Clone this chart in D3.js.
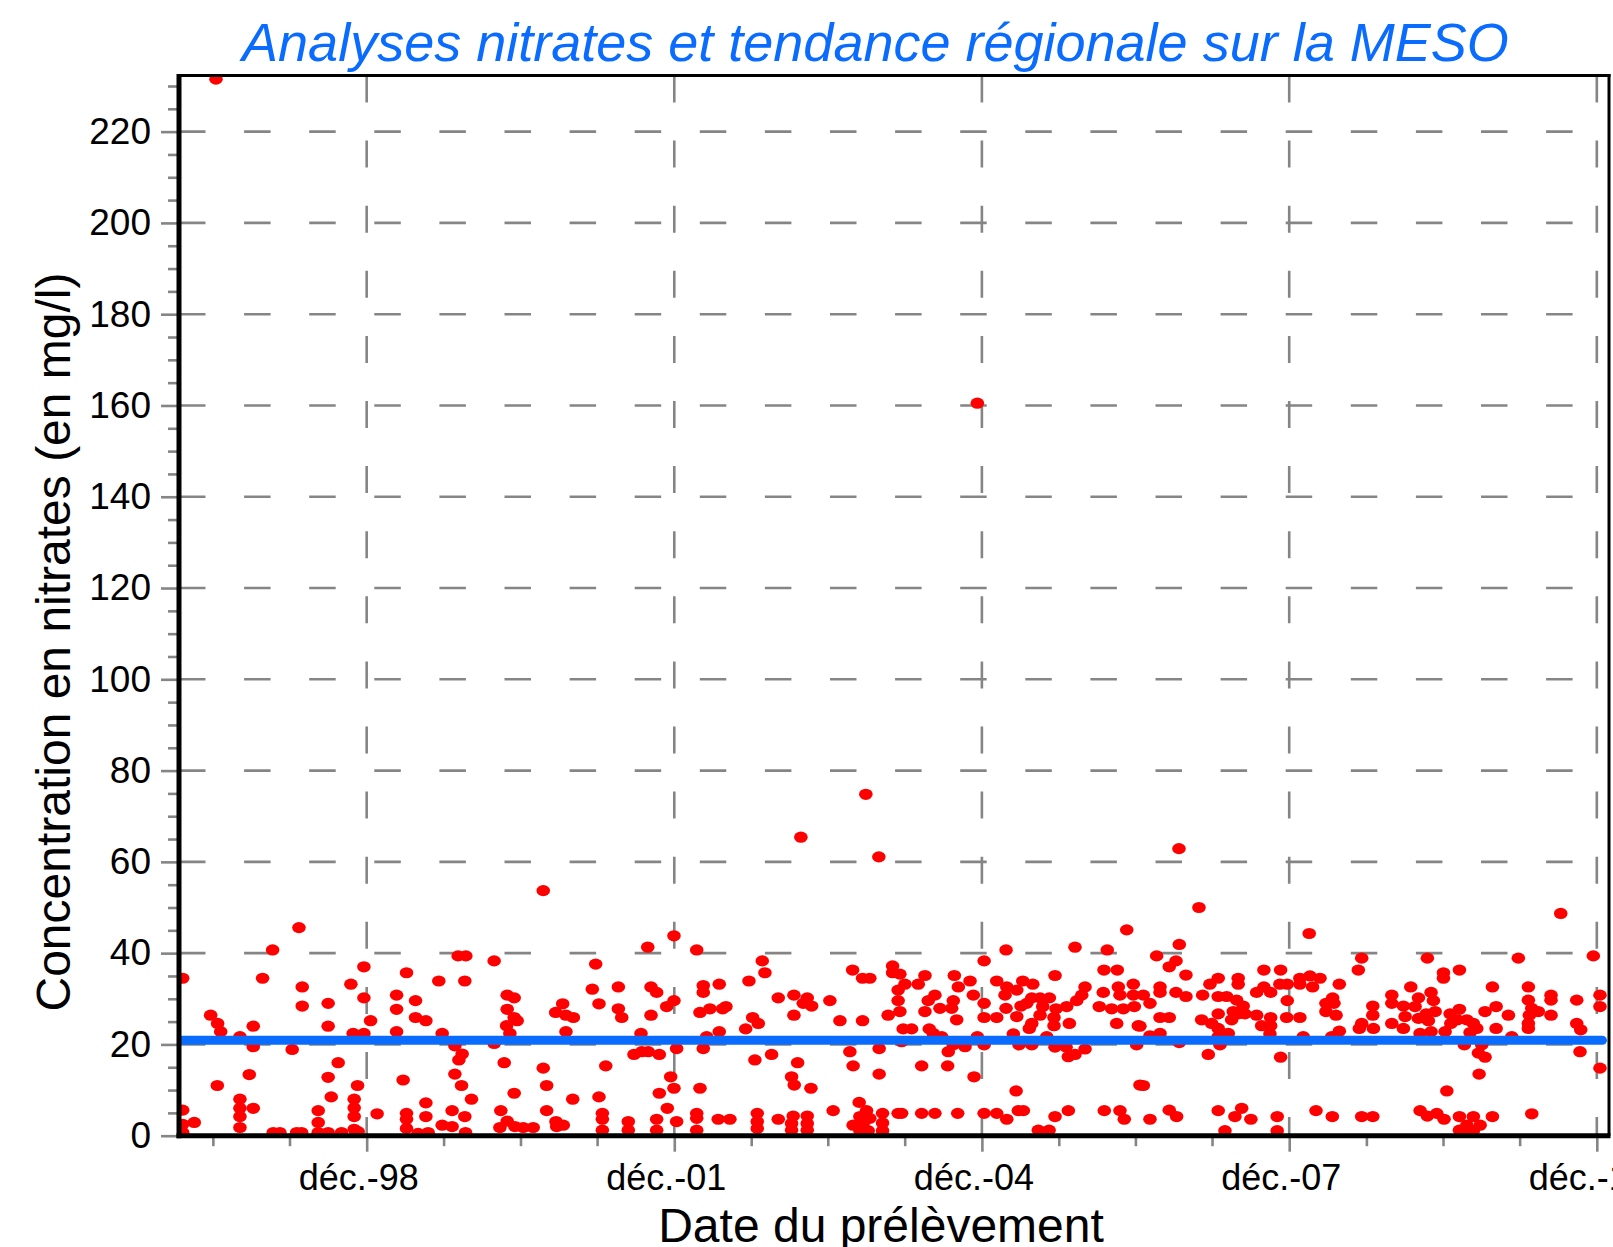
<!DOCTYPE html>
<html>
<head>
<meta charset="utf-8">
<script src="https://cdn.jsdelivr.net/npm/d3@7"></script>
<style>
  body { margin: 0; background: #fff; }
  svg { display: block; }
  text { font-family: "Liberation Sans", Arial, sans-serif; }
</style>
</head>
<body>
<div id="chart"></div>
<script>
// analyses: [date as decimal year, nitrates mg/l]
const analyses1997_1999 = [
  [1997.444,231.5],
  [1997.119,34.5],[1997.997,40.7],[1998.254,45.6],[1997.899,34.5],[1998.286,32.6],[1998.286,28.4],
  [1997.392,26.4],[1997.460,24.6],[1997.490,22.8],[1997.678,21.7],[1997.808,24.0],[1997.808,19.5],
  [1998.188,18.9],[1998.539,29.0],[1998.539,24.0],[1998.761,33.2],[1998.888,37.0],[1998.888,30.2],
  [1998.953,25.2],[1998.783,22.4],[1998.888,22.4],[1999.207,30.8],[1999.207,27.7],[1999.207,22.8],
  [1999.304,35.7],[1999.392,29.6],[1999.392,25.9],[1998.637,16.0],[1998.539,12.8],[1998.569,8.5],
  [1998.826,11.0],[1998.793,8.0],[1998.793,6.1],[1998.793,4.2],[1998.793,1.4],[1998.832,0.9],
  [1999.017,4.8],[1999.271,12.2],[1999.304,4.9],[1999.304,3.6],[1999.304,1.6],[1999.417,0.5],
  [1997.769,13.4],[1997.457,11.0],[1997.678,8.0],[1997.678,6.0],[1997.678,4.2],[1997.678,1.8],
  [1997.808,6.0],[1997.119,5.6],[1997.119,2.5],[1997.119,0.7],[1997.232,2.9],[1998.003,0.7],
  [1998.068,0.7],[1998.231,0.7],[1998.280,0.7],[1998.442,5.5],[1998.442,2.9],[1998.442,0.7],
  [1998.539,0.7],[1998.670,0.7]
];

const analyses1999_2001 = [
  [2000.637,53.7],[1999.808,39.4],[1999.883,39.4],[2000.159,38.3],[2001.656,41.3],[2001.148,37.6],
  [1999.619,33.9],[1999.873,33.9],[1999.493,25.2],[2000.286,30.8],[2000.354,30.2],[2000.286,27.7],
  [2000.354,25.9],[2000.383,25.2],[2000.280,24.1],[2000.312,22.4],[1999.652,22.4],[1999.776,19.7],
  [1999.847,17.9],[1999.815,16.6],[1999.776,13.5],[1999.841,11.0],[1999.938,8.0],[2000.159,20.2],
  [2000.257,16.0],[2000.354,9.3],[2000.224,5.5],[2000.286,3.2],[2000.215,1.8],[2000.361,2.0],
  [2000.442,1.8],[2000.539,1.8],[2000.637,14.8],[2000.670,11.0],[2000.670,5.5],[2000.761,3.1],
  [2000.768,2.0],[2000.832,2.3],[2000.758,27.0],[2000.826,28.9],[2000.858,26.4],[2000.930,25.9],
  [2000.858,22.8],[2000.924,8.0],[2001.115,32.1],[2001.180,28.9],[2001.246,15.3],[2001.180,8.5],
  [2001.213,4.9],[2001.213,3.6],[2001.213,1.2],[2001.369,32.6],[2001.369,27.8],[2001.402,25.9],
  [2001.688,32.6],[2001.743,31.4],[2001.688,26.4],[2001.590,22.4],[2001.522,17.8],[2001.597,18.4],
  [2001.661,18.4],[2001.769,17.8],[2001.466,3.1],[2001.466,1.2],[2001.743,3.6],[2001.743,1.2],
  [2001.769,9.3],[1999.493,7.2],[1999.493,4.2],[1999.515,0.7],[1999.749,5.5],[1999.749,2.0],
  [1999.652,2.3],[1999.873,4.2],[1999.880,0.7]
];

const analyses2001_2004 = [
  [2003.785,74.8],[2003.151,65.4],[2003.912,61.1],[2001.912,43.8],[2002.134,40.7],[2002.774,38.3],
  [2002.800,35.7],[2003.656,36.3],[2003.753,34.5],[2003.824,34.5],[2004.046,37.2],[2004.046,35.7],
  [2002.198,32.9],[2002.198,31.4],[2002.354,33.2],[2002.644,33.9],[2001.841,28.3],[2001.912,29.6],
  [2002.166,27.0],[2002.263,27.8],[2002.387,27.8],[2002.419,28.3],[2002.930,30.2],[2003.083,30.8],
  [2003.213,30.2],[2003.174,29.0],[2003.256,28.4],[2003.083,26.4],[2003.434,29.6],[2003.532,25.2],
  [2003.753,25.2],[2004.003,26.4],[2004.100,31.9],[2004.100,29.6],[2002.680,25.9],[2002.735,24.6],
  [2002.612,23.4],[2002.354,22.8],[2002.231,21.7],[2001.938,19.1],[2002.198,19.1],[2002.702,16.6],
  [2002.865,17.8],[2003.629,18.4],[2003.661,15.3],[2003.915,19.1],[2003.915,13.5],[2003.119,16.0],
  [2003.060,12.9],[2003.086,11.1],[2003.249,10.4],[2001.880,12.9],[2001.912,10.4],[2002.166,10.4],
  [2001.847,6.0],[2001.938,3.1],[2002.134,4.9],[2002.134,3.8],[2002.134,1.2],[2002.344,3.6],
  [2002.458,3.6],[2002.725,4.9],[2002.725,3.1],[2002.725,1.6],[2002.930,3.6],[2003.076,4.3],
  [2003.060,2.7],[2003.060,1.2],[2003.213,4.3],[2003.213,2.7],[2003.213,1.2],[2003.466,5.5],
  [2003.720,7.3],[2003.792,5.5],[2003.661,2.3],[2003.727,4.2],[2003.759,2.7],[2003.727,1.1],
  [2003.808,1.1],[2003.824,3.8],[2003.948,4.9],[2003.948,2.8],[2003.948,1.1],[2004.100,4.9]
];

const analyses2004_2006 = [
  [2004.871,160.5],[2006.329,45.1],[2005.824,41.3],[2005.151,40.7],[2006.139,40.7],[2004.937,38.3],
  [2006.107,36.3],[2006.237,36.3],[2005.629,35.1],[2004.117,35.4],[2004.361,35.1],[2004.647,35.1],
  [2004.296,33.2],[2004.166,33.2],[2004.800,33.9],[2005.060,33.9],[2005.158,32.6],[2005.314,33.9],
  [2005.412,33.2],[2004.686,32.6],[2004.832,30.8],[2005.256,31.9],[2005.141,30.8],[2006.393,33.2],
  [2006.247,32.6],[2005.922,32.6],[2006.100,31.4],[2005.890,30.8],[2004.458,30.8],[2004.393,29.6],
  [2004.637,29.6],[2005.402,30.2],[2005.483,30.2],[2005.574,30.2],[2005.841,29.6],[2006.263,30.8],
  [2006.393,30.8],[2004.117,27.2],[2004.361,27.2],[2004.507,27.9],[2004.621,27.9],[2004.937,29.0],
  [2005.151,27.9],[2005.297,28.4],[2005.353,29.0],[2005.509,28.3],[2005.639,27.8],[2005.743,28.3],
  [2006.061,28.3],[2006.182,27.8],[2006.296,27.8],[2006.403,28.3],[2004.670,25.4],[2004.937,25.9],
  [2005.060,25.9],[2005.256,26.1],[2005.402,24.6],[2005.483,26.4],[2005.619,25.9],[2005.769,24.6],
  [2005.619,24.1],[2005.378,23.5],[2006.231,24.6],[2006.442,24.1],[2004.149,23.4],[2004.231,23.4],
  [2004.403,23.4],[2004.442,22.4],[2004.524,21.7],[2004.871,21.7],[2005.222,22.3],[2005.548,21.7],
  [2004.134,20.6],[2004.637,19.9],[2004.751,19.5],[2004.937,19.9],[2005.278,19.9],[2005.402,19.9],
  [2005.629,19.4],[2005.737,19.4],[2005.922,19.0],[2006.426,19.9],[2004.588,18.4],[2005.759,17.3],
  [2005.824,17.8],[2004.329,15.3],[2004.582,15.3],[2004.839,12.9],[2005.249,9.8],[2006.458,11.1],
  [2004.134,4.9],[2004.329,4.9],[2004.458,4.9],[2004.680,4.9],[2004.937,4.9],[2005.060,4.9],
  [2005.158,3.6],[2005.271,5.5],[2005.320,5.5],[2005.629,4.2],[2005.759,5.5],[2006.110,5.5],
  [2006.263,5.5],[2006.305,3.6],[2005.466,1.2],[2005.571,1.2]
];

const analyses2006_2008 = [
  [2006.839,62.9],[2007.034,50.0],[2008.110,44.3],[2006.842,41.9],[2006.621,39.4],[2006.810,38.3],
  [2006.744,37.0],[2006.907,35.2],[2007.668,36.3],[2007.831,36.3],[2008.621,38.9],[2008.588,36.3],
  [2006.654,32.6],[2006.654,31.4],[2006.810,31.4],[2006.907,30.5],[2007.141,33.2],[2007.222,34.5],
  [2007.417,34.5],[2007.417,33.2],[2007.070,30.8],[2007.222,30.5],[2007.304,30.5],[2007.402,29.7],
  [2007.466,28.4],[2007.369,27.2],[2007.417,26.7],[2007.483,26.7],[2007.668,32.6],[2007.597,31.4],
  [2007.734,31.4],[2007.824,33.2],[2007.896,33.2],[2008.019,34.5],[2008.117,35.0],[2008.143,32.6],
  [2008.215,34.5],[2008.019,33.2],[2008.403,33.2],[2007.896,29.6],[2008.338,30.2],[2008.273,29.0],
  [2008.351,29.0],[2008.273,27.2],[2008.371,26.4],[2006.491,30.8],[2006.556,29.0],[2006.654,25.9],
  [2006.744,25.9],[2006.458,24.0],[2006.556,21.9],[2006.654,22.4],[2006.842,20.4],[2007.060,25.4],
  [2007.158,24.6],[2007.222,26.7],[2007.222,23.5],[2007.222,21.7],[2007.320,22.4],[2007.239,19.9],
  [2007.353,25.4],[2007.597,26.4],[2007.646,24.1],[2007.734,25.9],[2007.734,24.1],[2007.727,22.3],
  [2007.890,25.9],[2008.019,25.9],[2008.052,21.7],[2008.329,21.7],[2008.403,22.9],[2008.598,23.5],
  [2008.621,24.6],[2008.729,28.4],[2008.729,26.4],[2008.735,23.5],[2007.125,17.8],[2007.831,17.2],
  [2006.491,11.0],[2006.744,5.6],[2006.816,4.2],[2006.556,3.6],[2007.222,5.5],[2007.385,4.2],
  [2007.451,6.0],[2007.541,3.6],[2007.288,1.1],[2007.798,4.2],[2007.798,1.1],[2008.176,5.5],
  [2008.335,4.2],[2008.621,4.2],[2008.729,4.2]
];

const analyses2008_2010 = [
  [2010.563,48.7],[2010.881,39.4],[2010.149,38.9],[2009.261,38.9],[2009.574,36.3],[2009.418,35.7],
  [2009.418,34.5],[2009.099,32.6],[2009.896,32.6],[2010.247,32.6],[2010.946,30.8],[2010.946,28.3],
  [2008.914,30.8],[2008.914,29.0],[2009.174,30.2],[2009.297,31.4],[2009.320,29.6],[2009.027,28.4],
  [2009.141,28.3],[2009.337,27.2],[2009.249,26.7],[2009.044,26.1],[2009.174,25.7],[2009.271,25.2],
  [2009.483,26.7],[2009.574,27.7],[2009.554,25.4],[2009.490,24.6],[2008.914,24.6],[2009.027,23.5],
  [2009.190,22.4],[2009.297,22.8],[2009.434,22.8],[2009.646,25.4],[2009.710,24.6],[2009.743,23.5],
  [2009.678,22.6],[2009.824,27.2],[2009.932,28.3],[2010.052,26.4],[2009.932,23.5],[2010.085,21.7],
  [2010.247,29.7],[2010.280,27.9],[2010.257,26.4],[2010.247,24.6],[2010.247,23.5],[2010.344,27.2],
  [2010.468,30.8],[2010.468,29.7],[2010.468,26.4],[2010.719,29.7],[2010.719,24.6],[2010.758,23.2],
  [2009.622,19.9],[2009.792,19.9],[2009.759,18.1],[2009.824,17.2],[2010.751,18.4],[2010.946,14.8],
  [2009.766,13.5],[2009.451,9.8],[2009.190,5.5],[2009.261,4.3],[2009.353,4.9],[2009.424,3.6],
  [2009.574,4.2],[2009.574,1.2],[2009.646,2.3],[2009.710,4.2],[2009.646,0.9],[2009.776,2.3],
  [2009.710,1.1],[2009.896,4.2],[2010.280,4.8]
];

// regional trend (start / end)
const trendYears = [1997.083, 2010.97];
const trendValues = [20.9, 20.9];

const yMajor = d3.range(0, 221, 20);
const yMinor = d3.range(0, 231, 5).filter(v => v % 20 !== 0);
const xTickLabels = ["déc.-98", "déc.-01", "déc.-04", "déc.-07", "déc.-10"];

const title = "Analyses nitrates et tendance régionale sur la MESO";
const yTitle = "Concentration en nitrates (en mg/l)";
const xTitle = "Date du prélèvement";

// decimal year -> Date
function toDate(v) {
    const yr = Math.floor(v);
    const a = new Date(yr, 0, 1), b = new Date(yr + 1, 0, 1);
    return new Date(a.getTime() + (v - yr) * (b - a));
}

const W = 1613, H = 1247;
const plot = {left: 179, right: 1609, top: 75.5, bottom: 1135.7};
const grey = "#858585";
const blue = "#0a6cff";

const svg = d3.select("#chart").append("svg")
    .attr("width", W)
    .attr("height", H);

const x = d3.scaleTime()
    .domain([toDate(1997.083), toDate(2011.034)])
    .range([plot.left, plot.right]);

const y = d3.scaleLinear()
    .domain([0, 232.3])
    .range([plot.bottom, plot.top]);

// ticks every 9 months from dec. 1998, major every 36
const dec98 = new Date(1998, 11, 1);
const xMajor = [], xMinor = [];
for (let k = -4; k <= 20; k++) {
    const d = d3.timeMonth.offset(dec98, 9 * k);
    if (d < x.domain()[0] || d > x.domain()[1]) continue;
    if (k % 4 === 0) xMajor.push(d); else xMinor.push(d);
}

svg.append("defs").append("clipPath").attr("id", "clip")
    .append("rect")
    .attr("x", plot.left).attr("y", plot.top)
    .attr("width", plot.right - plot.left)
    .attr("height", plot.bottom - plot.top);

// gridlines
svg.append("g")
    .selectAll("line")
    .data(yMajor.filter(v => v > 0))
    .join("line")
    .attr("x1", plot.left).attr("x2", plot.right)
    .attr("y1", d => y(d)).attr("y2", d => y(d))
    .attr("stroke", grey)
    .attr("stroke-width", 2.6)
    .attr("stroke-dasharray", "26.5,38.6");

svg.append("g")
    .selectAll("line")
    .data(xMajor)
    .join("line")
    .attr("x1", d => x(d)).attr("x2", d => x(d))
    .attr("y1", plot.top).attr("y2", plot.bottom)
    .attr("stroke", grey)
    .attr("stroke-width", 2.6)
    .attr("stroke-dasharray", "27,38.1");

// points
const samples = [].concat(analyses1997_1999, analyses1999_2001, analyses2001_2004,
                          analyses2004_2006, analyses2006_2008, analyses2008_2010);

svg.append("g")
    .attr("clip-path", "url(#clip)")
    .selectAll("ellipse")
    .data(samples)
    .join("ellipse")
    .attr("cx", d => x(toDate(d[0])))
    .attr("cy", d => y(d[1]))
    .attr("rx", 6.8)
    .attr("ry", 5.6)
    .attr("fill", "#ff0000");

// trend line
const trend = trendYears.map((t, i) => [t, trendValues[i]]);
svg.append("path")
    .attr("clip-path", "url(#clip)")
    .attr("d", d3.line().x(d => x(toDate(d[0]))).y(d => y(d[1]))(trend))
    .attr("fill", "none")
    .attr("stroke", blue)
    .attr("stroke-width", 9)
    .attr("stroke-linecap", "round");

// y axis
const yAxis = svg.append("g")
    .attr("transform", `translate(${plot.left},0)`)
    .call(d3.axisLeft(y).tickValues(yMajor).tickSize(18).tickPadding(10).tickFormat(d3.format("d")));
yAxis.select(".domain").remove();
yAxis.selectAll("line").attr("stroke", grey).attr("stroke-width", 2.6);
yAxis.selectAll("text").attr("font-size", 37).attr("fill", "#000");

const yMinorAxis = svg.append("g")
    .attr("transform", `translate(${plot.left - 2},0)`)
    .call(d3.axisLeft(y).tickValues(yMinor).tickSize(9).tickFormat(""));
yMinorAxis.select(".domain").remove();
yMinorAxis.selectAll("line").attr("stroke", grey).attr("stroke-width", 2.6);

// x axis
const xAxis = svg.append("g")
    .attr("transform", `translate(0,${plot.bottom})`)
    .call(d3.axisBottom(x).tickValues(xMajor).tickSize(16).tickPadding(12.7)
        .tickFormat((d, i) => xTickLabels[i]));
xAxis.select(".domain").remove();
xAxis.selectAll("line").attr("stroke", grey).attr("stroke-width", 2.6);
xAxis.selectAll("text").attr("font-size", 36).attr("fill", "#000").attr("dx", -8.5);

const xMinorAxis = svg.append("g")
    .attr("transform", `translate(0,${plot.bottom + 1.5})`)
    .call(d3.axisBottom(x).tickValues(xMinor).tickSize(9).tickFormat(""));
xMinorAxis.select(".domain").remove();
xMinorAxis.selectAll("line").attr("stroke", grey).attr("stroke-width", 2.6);

// frame
const frame = svg.append("g").attr("stroke", "#000");
frame.append("line")
    .attr("x1", plot.left).attr("x2", plot.right + 1.5)
    .attr("y1", plot.top).attr("y2", plot.top)
    .attr("stroke-width", 3);
frame.append("line")
    .attr("x1", plot.right).attr("x2", plot.right)
    .attr("y1", plot.top - 1.5).attr("y2", plot.bottom)
    .attr("stroke-width", 3);
frame.append("line")
    .attr("x1", plot.left).attr("x2", plot.left)
    .attr("y1", plot.top - 1.5).attr("y2", plot.bottom + 2.5)
    .attr("stroke-width", 5);
frame.append("line")
    .attr("x1", plot.left - 2.5).attr("x2", plot.right + 1.5)
    .attr("y1", plot.bottom).attr("y2", plot.bottom)
    .attr("stroke-width", 5);

// titles
svg.append("text")
    .attr("x", 875.4).attr("y", 61)
    .attr("text-anchor", "middle")
    .attr("font-size", 54)
    .attr("font-style", "italic")
    .attr("fill", blue)
    .text(title);

svg.append("text")
    .attr("transform", "translate(70,642) rotate(-90)")
    .attr("text-anchor", "middle")
    .attr("font-size", 48)
    .attr("fill", "#000")
    .text(yTitle);

svg.append("text")
    .attr("x", 881).attr("y", 1242)
    .attr("text-anchor", "middle")
    .attr("font-size", 48)
    .attr("fill", "#000")
    .text(xTitle);
</script>
</body>
</html>
